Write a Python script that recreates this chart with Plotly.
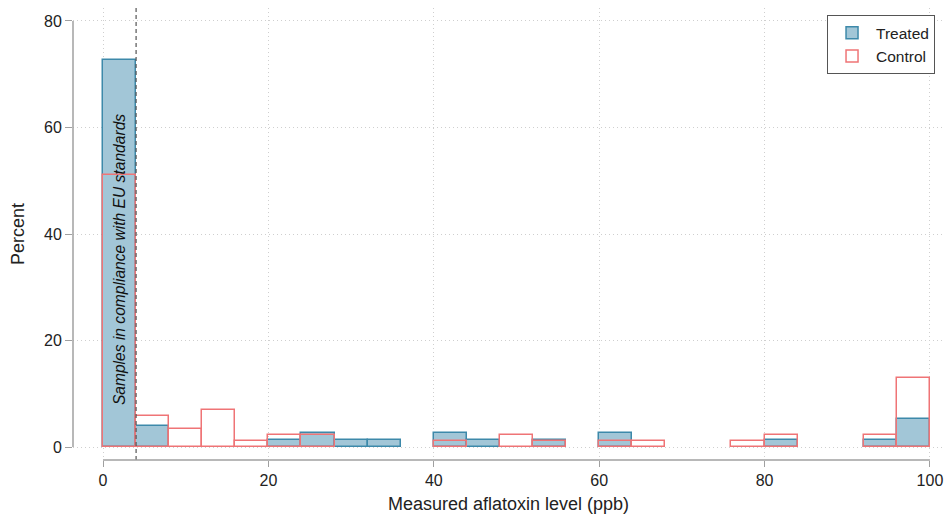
import plotly.graph_objects as go

# Bin left edges (ppb), bin width 4
bin_start = [0, 4, 8, 12, 16, 20, 24, 28, 32, 36, 40, 44, 48, 52, 56,
             60, 64, 68, 72, 76, 80, 84, 88, 92, 96]
bin_width = 4

# Percent of samples per bin
treated = [72.6, 3.9, 0, 0, 0, 1.3, 2.6, 1.3, 1.3, 0, 2.6, 1.3, 0, 1.3, 0,
           2.6, 0, 0, 0, 0, 1.3, 0, 0, 1.3, 5.3]
control = [51.1, 5.8, 3.4, 6.9, 1.1, 2.2, 2.2, 0, 0, 0, 1.1, 0, 2.2, 1.1, 0,
           1.1, 1.1, 0, 0, 1.1, 2.2, 0, 0, 2.2, 12.9]

x_ticks = [0, 20, 40, 60, 80, 100]
y_ticks = [0, 20, 40, 60, 80]
eu_limit = 4
note_text = "Samples in compliance with EU standards"

FONT = "Arial, Liberation Sans, sans-serif"


def nonempty(vals):
    # empty bins are not drawn (no outline along the baseline)
    return [v if v > 0 else None for v in vals]


fig = go.Figure()
fig.add_trace(go.Bar(
    x=bin_start, y=nonempty(treated), width=bin_width, offset=0, name="Treated",
    marker=dict(color="#a2c6d7", line=dict(color="#3d89aa", width=1.5)),
))
fig.add_trace(go.Bar(
    x=bin_start, y=nonempty(control), width=bin_width, offset=0, name="Control",
    marker=dict(color="rgba(255,255,255,0)", line=dict(color="#ef7476", width=1.5)),
))

# EU standard vertical dashed line
fig.add_shape(type="line", xref="x", yref="paper", x0=eu_limit, x1=eu_limit,
              y0=0, y1=1, line=dict(color="#555555", width=1.2, dash="4px,3px"))
# Stata-style axis lines spanning tick range only
fig.add_shape(type="line", xref="paper", yref="y", x0=0, x1=0,
              y0=y_ticks[0], y1=y_ticks[-1], line=dict(color="#a0a0a0", width=1.5))
fig.add_shape(type="line", xref="x", yref="paper", x0=x_ticks[0], x1=x_ticks[-1],
              y0=0, y1=0, line=dict(color="#a0a0a0", width=1.5))

fig.add_annotation(x=eu_limit / 2, y=35.2, xref="x", yref="y", text=note_text,
                   showarrow=False, textangle=-90,
                   font=dict(family=FONT, size=15.6, color="#111111", style="italic"))

fig.update_layout(
    width=946, height=515,
    margin=dict(l=73, r=2, t=8, b=55),
    paper_bgcolor="white", plot_bgcolor="white",
    barmode="overlay",
    bargap=0,
    font=dict(family=FONT, size=16, color="#222222"),
    showlegend=True,
    legend=dict(x=0.9897, y=0.984, xanchor="right", yanchor="top",
                bordercolor="#555555", borderwidth=1, bgcolor="white",
                font=dict(family=FONT, size=15.5, color="#222222"),
                itemwidth=38, tracegroupgap=2),
    xaxis=dict(
        range=[-3.63, 101.7], tickvals=x_ticks, ticks="outside", ticklen=6,
        tickcolor="#a0a0a0", tickwidth=1.2, showline=False, zeroline=False,
        showgrid=True, gridcolor="#cfcfcf", griddash="1px,3px", gridwidth=1,
        title=dict(text="Measured aflatoxin level (ppb)", font=dict(size=18), standoff=9),
        tickfont=dict(size=16),
    ),
    yaxis=dict(
        range=[-2.44, 82.44], tickvals=y_ticks, ticks="outside", ticklen=7,
        tickcolor="#a0a0a0", tickwidth=1.2, showline=False, zeroline=False,
        showgrid=True, gridcolor="#cfcfcf", griddash="1px,3px", gridwidth=1,
        title=dict(text="Percent", font=dict(size=18), standoff=14),
        tickfont=dict(size=16),
    ),
)

fig.write_html("out.html", config={"displayModeBar": False},
               post_script="document.body.style.margin='0';document.body.style.overflow='hidden';")
